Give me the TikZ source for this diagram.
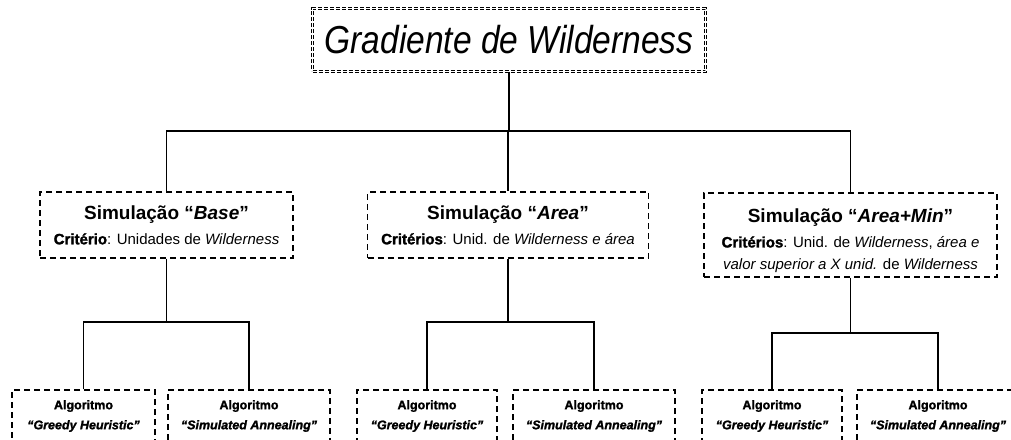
\documentclass[tikz,border=0pt]{standalone}
\usepackage{fontspec}
\setmainfont{Liberation Sans}
\newfontfamily\narrowfont[FakeStretch=0.86]{Liberation Sans}
\newfontfamily\blackfont[UprightFont={* Bold}, ItalicFont={* Bold Italic}, FakeBold=1.6]{Liberation Sans}
\begin{document}
\begin{tikzpicture}[x=1pt,y=-1pt,
  box/.style={draw=black, line width=1.3pt, dash pattern=on 6pt off 4pt, align=center, inner sep=0pt},
  titlebox/.style={draw=black, line width=0.7pt, dash pattern=on 4pt off 2pt, double, double distance=1.2pt, inner sep=0pt},
  conn/.style={draw=black, line width=1.6pt},
  simbox/.style={box, font=\fontsize{15}{25}\selectfont},
  algbox/.style={box, font=\fontsize{12.5}{20}\selectfont\blackfont, minimum height=52pt}
]
\useasboundingbox (0,0) rectangle (1011,439);
\clip (0,0) rectangle (1011,439);

\node[titlebox, minimum width=393pt, minimum height=63pt] (top) at (509,40)
  {\fontsize{39}{44}\selectfont\narrowfont\itshape Gradiente de Wilderness};

\node[simbox, minimum width=253pt, minimum height=66pt] (s1) at (166.5,225)
  {{\fontsize{19}{22}\selectfont\bfseries Simulação “\textit{Base}”}\\
   {\blackfont Critério}: Unidades de \textit{Wilderness}};
\node[simbox, minimum width=281pt, minimum height=66pt] (s2) at (508,225)
  {{\fontsize{19}{22}\selectfont\bfseries Simulação “\textit{Area}”}\\
   {\blackfont Critérios}: Unid. de \textit{Wilderness e área}};
\node[simbox, minimum width=293pt, minimum height=84pt] (s3) at (850.5,235)
  {\rule{0pt}{25pt}{\fontsize{19}{22}\selectfont\bfseries Simulação “\textit{Area+Min}”}\\
   {\blackfont Critérios}: Unid. de \textit{Wilderness}, \textit{área e}\\[-3pt]
   \textit{valor superior a X unid.} de \textit{Wilderness}};

\node[algbox, minimum width=143pt] (a1) at (83.5,416)
  {Algoritmo\\\textit{“Greedy Heuristic”}};
\node[algbox, minimum width=162pt] (b1) at (249,416)
  {Algoritmo\\\textit{“Simulated Annealing”}};
\node[algbox, minimum width=140pt] (a2) at (427,416)
  {Algoritmo\\\textit{“Greedy Heuristic”}};
\node[algbox, minimum width=162pt] (b2) at (594,416)
  {Algoritmo\\\textit{“Simulated Annealing”}};
\node[algbox, minimum width=140pt] (a3) at (772,416)
  {Algoritmo\\\textit{“Greedy Heuristic”}};
\node[algbox, minimum width=162pt] (b3) at (938,416)
  {Algoritmo\\\textit{“Simulated Annealing”}};

\coordinate (j0) at (509,131);
\coordinate (j1) at (166.5,322);
\coordinate (j2) at (508,322);
\coordinate (j3) at (850.5,333);

\draw[conn] (top.south) -- (j0);
\draw[conn] (s1.north) |- (j0) -| (s3.north);
\draw[conn] (j0 -| s2.north) -- (s2.north);

\draw[conn] (s1.south) -- (j1);
\draw[conn] (a1.north) |- (j1) -| (b1.north);
\draw[conn] (s2.south) -- (j2);
\draw[conn] (a2.north) |- (j2) -| (b2.north);
\draw[conn] (s3.south) -- (j3);
\draw[conn] (a3.north) |- (j3) -| (b3.north);
\end{tikzpicture}
\end{document}
